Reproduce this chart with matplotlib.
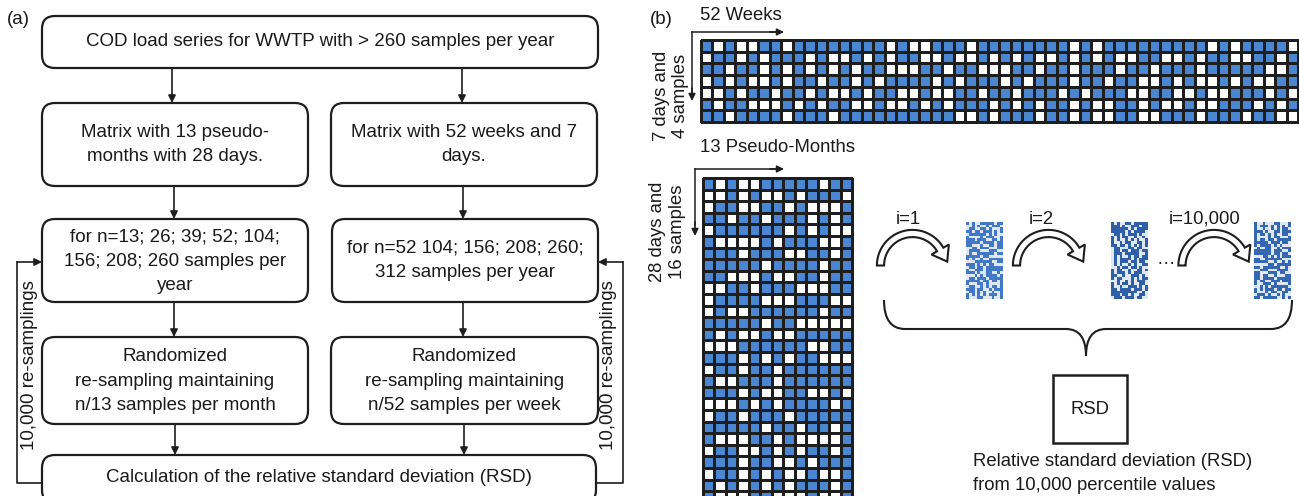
import numpy as np
import matplotlib
matplotlib.use("Agg")
import matplotlib.pyplot as plt
from matplotlib.patches import FancyBboxPatch, Rectangle, PathPatch, Polygon
from matplotlib.path import Path
from matplotlib.colors import ListedColormap

plt.rcParams['font.family'] = ['Liberation Sans', 'DejaVu Sans']

# ---------------- data ----------------
# 52 weeks x 7 days sampling matrix (1 = sampled / blue, 0 = not sampled / white)
week_rows = [
    "10100110111111110" "10011101111111101" "011111111101011110",
    "01101011101001010" "11001001010100101" "010011001011001101",
    "11011010101010110" "00110110001101101" "110110111011111001",
    "01010010110110101" "11101011101011101" "101100101001010011",
    "00101101101001011" "00100110110111010" "111001100100111010",
    "10110001010110010" "01010111010101101" "001101001001110101",
    "11011110111011111" "11111001011101101" "001100111011101100",
]
# 13 pseudo-months x 28 days sampling matrix
month_rows = [
    "1010011111011", "0010100101110", "0110011010001", "1101101110101",
    "0111111010100", "1000010111001", "1110111001101", "1111101111011",
    "1100010011011", "0011011100011", "0111100011100", "0100111111011",
    "1111101100000", "1010010011111", "0001111110011", "1110101011000",
    "0110110111111", "1001110111111", "1110100110010", "0001010111101",
    "0110111011111", "1111101101101", "1000110100001", "0110010101101",
    "1110110010111", "0110101001001", "1010101011101", "1000110001001",
]
left_boxes = [
    ["COD load series for WWTP with > 260 samples per year"],
    ["Matrix with 13 pseudo-", "months with 28 days."],
    ["for n=13; 26; 39; 52; 104;", "156; 208; 260 samples per", "year"],
    ["Randomized", "re-sampling maintaining", "n/13 samples per month"],
    ["Calculation of the relative standard deviation (RSD)"],
]
right_boxes = [
    ["Matrix with 52 weeks and 7", "days."],
    ["for n=52 104; 156; 208; 260;", "312 samples per year"],
    ["Randomized", "re-sampling maintaining", "n/52 samples per week"],
]
loop_label = "10,000 re-samplings"
iter_labels = ["i=1", "i=2", "i=10,000"]
rsd_label = "RSD"
rsd_caption = ["Relative standard deviation (RSD)", "from 10,000 percentile values"]

week = np.array([[int(c) for c in r] for r in week_rows])
month = np.array([[int(c) for c in r] for r in month_rows])

BLUE = '#4a86d2'
EDGE = '#1e1e1e'
TXT = '#1a1a1a'
FS = 13.5
FSB = 13.3

fig = plt.figure(figsize=(12.99, 4.96), dpi=100)
ax = fig.add_axes([0, 0, 1, 1])
ax.set_xlim(0, 1299)
ax.set_ylim(496, 0)
ax.axis('off')

def rbox(x0, y0, x1, y1, lines, ycent, dy=24.5, fs=FS):
    p = FancyBboxPatch((x0, y0), x1 - x0, y1 - y0,
                       boxstyle="round,pad=0,rounding_size=13",
                       fc='white', ec=EDGE, lw=1.6)
    ax.add_patch(p)
    xc = (x0 + x1) / 2
    n = len(lines)
    for i, t in enumerate(lines):
        ax.text(xc, ycent + (i - (n - 1) / 2) * dy, t, ha='center', va='center',
                fontsize=fs, color=TXT)

def arrow(p0, p1, lw=1.2, ms=11):
    ax.annotate('', xy=p1, xytext=p0,
                arrowprops=dict(arrowstyle='-|>', color=EDGE, lw=lw,
                                mutation_scale=ms, shrinkA=0, shrinkB=0))

def hollow_arc(cx, cy, r=32.0, w=3.6, hw=10.0, hl=14.0, th_end=30.0):
    # semicircular hollow arrow, clockwise on screen (y axis points down)
    th = np.radians(np.linspace(180, th_end, 60))
    outer = np.c_[cx + (r + w) * np.cos(th), cy - (r + w) * np.sin(th)]
    inner = np.c_[cx + (r - w) * np.cos(th[::-1]), cy - (r - w) * np.sin(th[::-1])]
    te = np.radians(th_end)
    pe = np.array([cx + r * np.cos(te), cy - r * np.sin(te)])
    nrm = np.array([np.cos(te), -np.sin(te)])
    tan = np.array([np.sin(te), np.cos(te)])
    head = [pe + hw * nrm, pe + hl * tan, pe - hw * nrm]
    pts = np.vstack([outer, head, inner])
    ax.add_patch(Polygon(pts, closed=True, fc='white', ec=EDGE, lw=1.5, zorder=3,
                         joinstyle='miter'))

# ---------------- panel (a) ----------------
ax.text(18, 19, "(a)", ha='center', va='center', fontsize=FS, color=TXT)
rbox(42, 16, 598, 68, left_boxes[0], 42)
rbox(42, 103, 308, 186, left_boxes[1], 144.5)
rbox(331, 103, 597, 186, right_boxes[0], 144.5)
rbox(42, 219, 308, 302, left_boxes[2], 261)
rbox(332, 219, 598, 302, right_boxes[1], 260)
rbox(42, 337, 308, 424, left_boxes[3], 381)
rbox(331, 337, 598, 424, right_boxes[2], 381)
rbox(42, 455, 596, 503, left_boxes[4], 478)

for xa in (172, 462):
    arrow((xa, 68), (xa, 103))
arrow((174, 186), (174, 219))
arrow((463, 186), (463, 219))
arrow((174, 302), (174, 337))
arrow((463, 302), (463, 337))
arrow((175, 424), (175, 455))
arrow((464, 424), (464, 455))

# feedback loops
ax.plot([42, 17, 17], [483, 483, 262], color=EDGE, lw=1.2)
arrow((17, 262), (42, 262))
ax.plot([596, 623, 623], [483, 483, 262], color=EDGE, lw=1.2)
arrow((623, 262), (598, 262))
ax.text(30, 365, loop_label, rotation=90, ha='center', va='center', fontsize=FS, color=TXT)
ax.text(609, 365, loop_label, rotation=90, ha='center', va='center', fontsize=FS, color=TXT)

# ---------------- panel (b) ----------------
ax.text(661, 19, "(b)", ha='center', va='center', fontsize=FS, color=TXT)
cmap = ListedColormap(['white', BLUE])

# weeks grid
wx = np.linspace(701, 1298, week.shape[1] + 1)
wy = np.linspace(40, 122, week.shape[0] + 1)
ax.pcolormesh(wx, wy, week, cmap=cmap, vmin=0, vmax=1, edgecolors=EDGE, linewidth=0.9)
ax.text(700, 16, "52 Weeks", ha='left', va='center', fontsize=FSB, color=TXT)
ax.plot([692, 775], [32, 32], color=EDGE, lw=1.1)
arrow((770, 32), (784, 32), ms=10)
ax.plot([692, 692], [32, 92], color=EDGE, lw=1.1)
arrow((692, 88), (692, 101), ms=10)
ax.text(662, 96, "7 days and", rotation=90, ha='center', va='center', fontsize=FSB, color=TXT)
ax.text(681, 96, "4 samples", rotation=90, ha='center', va='center', fontsize=FSB, color=TXT)

# pseudo-months grid
mx = np.linspace(703, 852, month.shape[1] + 1)
my = np.linspace(178, 178 + 11.6 * month.shape[0], month.shape[0] + 1)
ax.pcolormesh(mx, my, month, cmap=cmap, vmin=0, vmax=1, edgecolors=EDGE, linewidth=0.9)
ax.text(700, 148, "13 Pseudo-Months", ha='left', va='center', fontsize=FSB, color=TXT)
ax.plot([695, 775], [169, 169], color=EDGE, lw=1.1)
arrow((770, 169), (784, 169), ms=10)
ax.plot([695, 695], [169, 225], color=EDGE, lw=1.1)
arrow((695, 222), (695, 236), ms=10)
ax.text(658, 232, "28 days and", rotation=90, ha='center', va='center', fontsize=FSB, color=TXT)
ax.text(678, 232, "16 samples", rotation=90, ha='center', va='center', fontsize=FSB, color=TXT)

# thumbnails of resampled matrices
thumbs = [month, week.reshape(28, 13), month[::-1, ::-1]]
thumb_x = [966, 1111, 1254]
thumb_cols = ['#4278c6', '#2f5fa8', '#3468b4']
for data, tx, tc in zip(thumbs, thumb_x, thumb_cols):
    ax.imshow(data, cmap=ListedColormap(['#dfe7f3', tc]), vmin=0, vmax=1,
              extent=(tx, tx + 37, 299, 222), interpolation='nearest',
              aspect='auto', zorder=2)
ax.set_xlim(0, 1299)
ax.set_ylim(496, 0)

# hollow curved arrows
for cx in (912.5, 1048.5, 1214.0):
    hollow_arc(cx, 265.5)
ax.text(908, 219, iter_labels[0], ha='center', va='center', fontsize=FSB, color=TXT)
ax.text(1041, 219, iter_labels[1], ha='center', va='center', fontsize=FSB, color=TXT)
ax.text(1205, 219, iter_labels[2], ha='center', va='center', fontsize=FSB, color=TXT)
ax.text(1166, 260, "\u2026", ha='center', va='center', fontsize=FSB, color=TXT)

# curly brace
verts = [(884, 300), (884, 329), (905, 329), (1066, 329), (1086, 329), (1086, 356),
         (1086, 329), (1106, 329), (1271, 329), (1292, 329), (1292, 300)]
codes = [Path.MOVETO, Path.CURVE3, Path.CURVE3, Path.LINETO, Path.CURVE3, Path.CURVE3,
         Path.CURVE3, Path.CURVE3, Path.LINETO, Path.CURVE3, Path.CURVE3]
ax.add_patch(PathPatch(Path(verts, codes), fill=False, ec=EDGE, lw=1.5))

# RSD box
ax.add_patch(Rectangle((1053, 375), 74, 68, fc='white', ec=EDGE, lw=1.8))
ax.text(1090, 410, rsd_label, ha='center', va='center', fontsize=FSB, color=TXT)
ax.text(973, 462, rsd_caption[0], ha='left', va='center', fontsize=FSB, color=TXT)
ax.text(973, 485, rsd_caption[1], ha='left', va='center', fontsize=FSB, color=TXT)

fig.savefig("out.png", dpi=100)
